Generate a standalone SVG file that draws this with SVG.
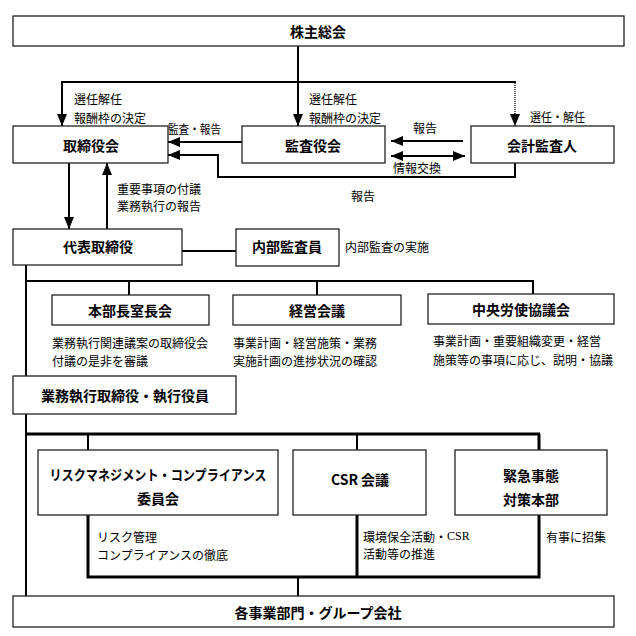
<svg xmlns="http://www.w3.org/2000/svg" width="636" height="636" viewBox="0 0 636 636">
<style>
.box{fill:#fff;stroke:#222;stroke-width:1.3}
.t{font-family:"Noto Sans CJK JP","Noto Sans",sans-serif;font-weight:bold;font-size:14px;text-anchor:middle;dominant-baseline:central;fill:#000}
.l{font-family:"Noto Sans CJK JP","Noto Sans",sans-serif;font-size:12px;dominant-baseline:central;fill:#000}
.c{fill:none;stroke:#000;stroke-width:2}
.k{fill:none;stroke:#000;stroke-width:3}
.d{fill:none;stroke:#555;stroke-width:2;stroke-dasharray:1 1}
.serif{font-family:"Liberation Serif",serif}
</style>
<defs>
<marker id="ah" markerUnits="userSpaceOnUse" markerWidth="12" markerHeight="10" refX="12" refY="5" orient="auto-start-reverse">
<path d="M0,0 L12,5 L0,10 z" fill="#000"/>
</marker>
</defs>
<g id="connectors">
<line class="c" x1="298" y1="46" x2="298" y2="82"/>
<line class="c" x1="61" y1="82" x2="516" y2="82" stroke-width="2.5"/>
<line class="c" x1="62" y1="82" x2="62" y2="126" marker-end="url(#ah)"/>
<line class="c" x1="298" y1="82" x2="298" y2="126" marker-end="url(#ah)"/>
<line class="d" x1="515" y1="83" x2="515" y2="126" marker-end="url(#ah)"/>
<line class="c" x1="242" y1="142" x2="168" y2="142" marker-end="url(#ah)"/>
<path class="c" d="M515,163 V177 H218 V155 H168" marker-end="url(#ah)"/>
<line class="c" x1="463" y1="141" x2="391" y2="141" marker-end="url(#ah)"/>
<line class="c" x1="391" y1="156" x2="465" y2="156" marker-start="url(#ah)" marker-end="url(#ah)"/>
<line class="c" x1="69" y1="163" x2="69" y2="229" marker-end="url(#ah)"/>
<line class="c" x1="107" y1="229" x2="107" y2="163" marker-end="url(#ah)"/>
<line class="c" x1="182" y1="251" x2="236" y2="251"/>
<line class="c" x1="26" y1="265" x2="26" y2="596"/>
<polyline class="c" points="26,281 533,281 533,294"/>
<line class="c" x1="129" y1="281" x2="129" y2="295"/>
<line class="c" x1="317" y1="281" x2="317" y2="295"/>
<line class="k" x1="26" y1="434" x2="540" y2="434"/>
<line class="c" x1="88" y1="434" x2="88" y2="450"/>
<line class="c" x1="357" y1="434" x2="357" y2="450"/>
<line class="k" x1="539" y1="434" x2="539" y2="450"/>
<path class="k" d="M88,515 V577 H539 V515"/>
<line class="k" x1="357" y1="515" x2="357" y2="577"/>
<line class="c" x1="298" y1="577" x2="298" y2="596"/>
</g>
<g id="kabunushi"><rect class="box" x="13" y="16" width="611" height="30"/><text class="t" x="318" y="31">株主総会</text></g>
<g id="torishimariyakukai"><rect class="box" x="13" y="126" width="155" height="37"/><text class="t" x="91" y="145">取締役会</text></g>
<g id="kansayakukai"><rect class="box" x="242" y="126" width="143" height="37"/><text class="t" x="313" y="145">監査役会</text></g>
<g id="kaikeikansanin"><rect class="box" x="471" y="126" width="143" height="37"/><text class="t" x="542" y="145">会計監査人</text></g>
<g id="daihyo"><rect class="box" x="13" y="229" width="169" height="36"/><text class="t" x="98" y="246">代表取締役</text></g>
<g id="naibukansa"><rect class="box" x="236" y="229" width="103" height="37"/><text class="t" x="287" y="246">内部監査員</text></g>
<g id="honbucho"><rect class="box" x="52" y="295" width="157" height="30"/><text class="t" x="130" y="310">本部長室長会</text></g>
<g id="keiei"><rect class="box" x="233" y="295" width="168" height="30"/><text class="t" x="317" y="310">経営会議</text></g>
<g id="roushi"><rect class="box" x="428" y="294" width="186" height="30"/><text class="t" x="521" y="309">中央労使協議会</text></g>
<g id="gyomu"><rect class="box" x="13" y="376" width="223" height="38"/><text class="t" x="125" y="395">業務執行取締役・執行役員</text></g>
<g id="risk"><rect class="box" x="38" y="450" width="240" height="65"/><text class="t" x="158" y="474" textLength="217" lengthAdjust="spacingAndGlyphs">リスクマネジメント・コンプライアンス</text><text class="t" x="158" y="498">委員会</text></g>
<g id="csr"><rect class="box" x="293" y="450" width="133" height="65"/><text class="t" x="360" y="479">CSR 会議</text></g>
<g id="kinkyu"><rect class="box" x="455" y="450" width="152" height="65"/><text class="t" x="531" y="475">緊急事態</text><text class="t" x="531" y="499">対策本部</text></g>
<g id="kakujigyo"><rect class="box" x="13" y="596" width="601" height="31"/><text class="t" x="318" y="612">各事業部門・グループ会社</text></g>
<g id="labels">
<text class="l" x="74" y="98">選任解任</text>
<text class="l" x="74" y="117">報酬枠の決定</text>
<text class="l" x="309" y="98">選任解任</text>
<text class="l" x="309" y="117">報酬枠の決定</text>
<text class="l" x="530" y="116" textLength="55" lengthAdjust="spacingAndGlyphs">選任・解任</text>
<text class="l" x="168" y="128" textLength="53" lengthAdjust="spacingAndGlyphs">監査・報告</text>
<text class="l" x="413" y="127">報告</text>
<text class="l" x="393" y="167">情報交換</text>
<text class="l" x="351" y="195">報告</text>
<text class="l" x="117" y="188">重要事項の付議</text>
<text class="l" x="117" y="205">業務執行の報告</text>
<text class="l" x="345" y="246">内部監査の実施</text>
<text class="l" x="52" y="342">業務執行関連議案の取締役会</text>
<text class="l" x="52" y="360">付議の是非を審議</text>
<text class="l" x="233" y="342">事業計画・経営施策・業務</text>
<text class="l" x="233" y="360">実施計画の進捗状況の確認</text>
<text class="l" x="433" y="340">事業計画・重要組織変更・経営</text>
<text class="l" x="433" y="359">施策等の事項に応じ、説明・協議</text>
<text class="l" x="97" y="536">リスク管理</text>
<text class="l" x="97" y="554">コンプライアンスの徹底</text>
<text class="l" x="363" y="536">環境保全活動・<tspan class="serif">CSR</tspan></text>
<text class="l" x="363" y="553">活動等の推進</text>
<text class="l" x="546" y="536">有事に招集</text>
</g>
</svg>
